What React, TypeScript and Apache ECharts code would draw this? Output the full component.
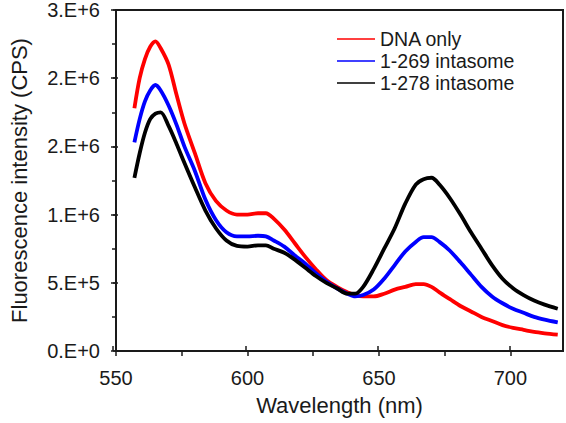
import React, { useEffect, useRef } from "react";
import * as echarts from "echarts";

const wavelengths = [557, 559, 561, 563, 565, 567, 570, 573, 576, 580, 584, 588, 592, 596, 600, 604, 607, 610, 614, 618, 622, 626, 630, 634, 638, 641, 644, 648, 652, 656, 660, 664, 667, 670, 673, 677, 681, 685, 689, 693, 697, 701, 705, 709, 713, 718];

const dnaOnly = [1.78, 2.0, 2.14, 2.23, 2.27, 2.22, 2.1, 1.88, 1.67, 1.45, 1.23, 1.1, 1.03, 1.0, 1.0, 1.01, 1.01, 0.97, 0.89, 0.79, 0.69, 0.6, 0.52, 0.47, 0.43, 0.41, 0.4, 0.4, 0.42, 0.45, 0.47, 0.49, 0.49, 0.47, 0.43, 0.38, 0.33, 0.29, 0.25, 0.22, 0.19, 0.17, 0.155, 0.14, 0.13, 0.12].map((v) => v * 1e6);

const intasome269 = [1.53, 1.7, 1.83, 1.91, 1.95, 1.91, 1.8, 1.66, 1.5, 1.32, 1.11, 0.96, 0.87, 0.84, 0.84, 0.845, 0.84, 0.81, 0.765, 0.7, 0.64, 0.57, 0.51, 0.46, 0.42, 0.4, 0.41, 0.45, 0.53, 0.63, 0.73, 0.8, 0.835, 0.835, 0.8, 0.735, 0.65, 0.56, 0.47, 0.4, 0.35, 0.31, 0.28, 0.25, 0.23, 0.21].map((v) => v * 1e6);

const intasome278 = [1.27, 1.45, 1.6, 1.7, 1.74, 1.75, 1.65, 1.52, 1.38, 1.2, 1.03, 0.9, 0.81, 0.77, 0.765, 0.775, 0.775, 0.75, 0.72, 0.67, 0.61, 0.55, 0.5, 0.46, 0.42, 0.42, 0.47, 0.6, 0.75, 0.9, 1.08, 1.22, 1.26, 1.27, 1.22, 1.12, 1.0, 0.87, 0.75, 0.63, 0.53, 0.46, 0.41, 0.37, 0.34, 0.31].map((v) => v * 1e6);

const seriesNames = ["DNA only", "1-269 intasome", "1-278 intasome"];
const seriesColors = ["#ff0000", "#0000ff", "#000000"];

const yTickLabels = ["0.E+0", "5.E+5", "1.E+6", "2.E+6", "2.E+6", "3.E+6"];
const xLabelValues = [550, 600, 650, 700];
const xTickValues = [550, 575, 600, 625, 650, 675, 700];

const FONT = "'Liberation Sans', Arial, sans-serif";
const AXIS_COLOR = "#1a1a1a";

export default function App() {
  const ref = useRef<HTMLDivElement>(null);
  useEffect(() => {
    if (!ref.current) return;
    const chart = echarts.init(ref.current, null, { renderer: "svg" });
    const gridPos = { left: 113, top: 10, right: 3, bottom: 72 };
    const allData = [dnaOnly, intasome269, intasome278];
    chart.setOption({
      animation: false,
      textStyle: { fontFamily: FONT },
      grid: [
        { ...gridPos, show: true, borderColor: AXIS_COLOR, borderWidth: 2, backgroundColor: "transparent", containLabel: false },
        { ...gridPos, show: false, containLabel: false },
      ],
      legend: {
        orient: "vertical",
        left: 332,
        top: 24,
        itemWidth: 38,
        itemHeight: 12,
        itemGap: 2,
        icon: "path://M0,0 L38,0 L38,1.5 L0,1.5 Z",
        textStyle: { fontSize: 19.5, color: "#1a1a1a", fontFamily: FONT },
        data: seriesNames,
      },
      xAxis: [
        {
          gridIndex: 0,
          type: "value",
          min: 550,
          max: 720,
          interval: 50,
          name: "Wavelength (nm)",
          nameLocation: "middle",
          nameGap: 43,
          nameTextStyle: { fontSize: 22, color: "#1a1a1a", fontFamily: FONT },
          axisLine: { show: true, lineStyle: { color: AXIS_COLOR, width: 2 } },
          axisTick: { show: true, inside: false, length: 5, lineStyle: { color: AXIS_COLOR, width: 1.5 }, customValues: xTickValues },
          axisLabel: { fontSize: 20, color: "#1a1a1a", margin: 17, fontFamily: FONT, customValues: xLabelValues },
          splitLine: { show: false },
        },
        {
          gridIndex: 1,
          type: "value",
          min: 550,
          max: 720,
          interval: 50,
          axisLine: { show: false },
          axisTick: { show: true, inside: true, length: 5, lineStyle: { color: AXIS_COLOR, width: 1.5 }, customValues: xLabelValues },
          axisLabel: { show: false },
          splitLine: { show: false },
        },
      ],
      yAxis: [
        {
          gridIndex: 0,
          type: "value",
          min: 0,
          max: 2500000,
          interval: 500000,
          name: "Fluorescence intensity (CPS)",
          nameLocation: "middle",
          nameGap: 86,
          nameTextStyle: { fontSize: 22, color: "#1a1a1a", fontFamily: FONT },
          axisLine: { show: true, lineStyle: { color: AXIS_COLOR, width: 2 } },
          axisTick: { show: true, inside: false, length: 5, lineStyle: { color: AXIS_COLOR, width: 1.5 } },
          minorTick: { show: true, splitNumber: 2, length: 4, lineStyle: { color: AXIS_COLOR, width: 1.5 } },
          axisLabel: {
            fontSize: 20,
            color: "#1a1a1a",
            margin: 16,
            fontFamily: FONT,
            formatter: (v: number) => yTickLabels[Math.round(v / 500000)],
          },
          splitLine: { show: false },
        },
        {
          gridIndex: 1,
          type: "value",
          min: 0,
          max: 2500000,
          interval: 500000,
          axisLine: { show: false },
          axisTick: { show: true, inside: true, length: 5, lineStyle: { color: AXIS_COLOR, width: 1.5 } },
          axisLabel: { show: false },
          splitLine: { show: false },
        },
      ],
      series: seriesNames.map((name, i) => ({
        name,
        type: "line",
        xAxisIndex: 0,
        yAxisIndex: 0,
        data: wavelengths.map((w, j) => [w, allData[i][j]]),
        showSymbol: false,
        symbol: "none",
        smooth: 0.3,
        color: seriesColors[i],
        lineStyle: { color: seriesColors[i], width: 3.8 },
      })),
    });
    return () => chart.dispose();
  }, []);
  return <div ref={ref} style={{ width: 566, height: 423, position: "absolute", left: 0, top: 0 }} />;
}
